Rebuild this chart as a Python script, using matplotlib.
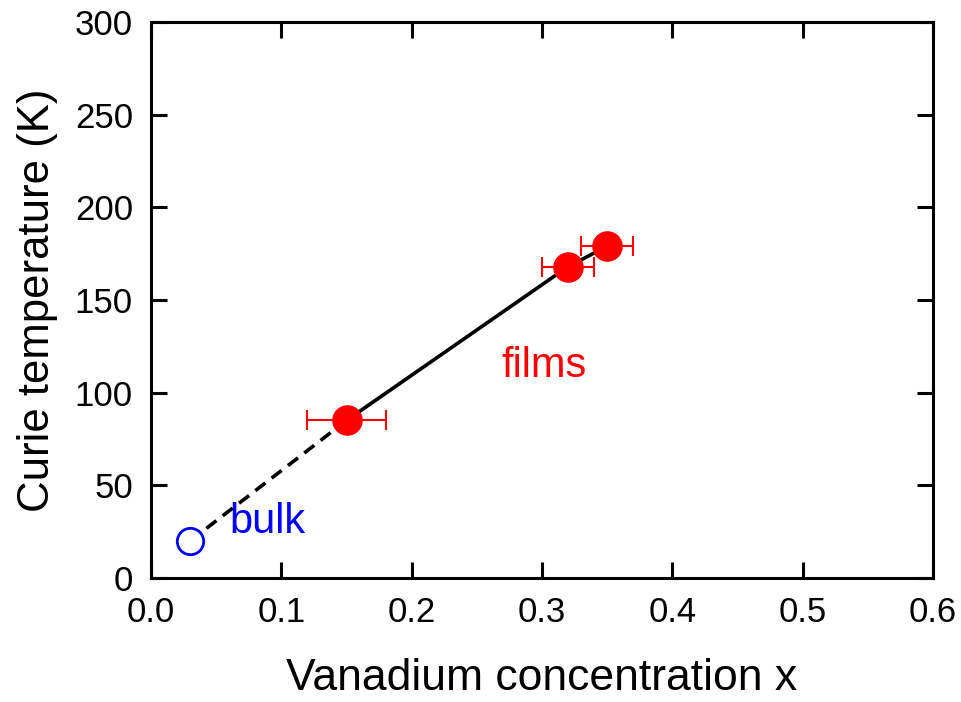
import matplotlib
matplotlib.use("Agg")
import matplotlib.pyplot as plt

plt.rcParams['font.family'] = ['Liberation Sans', 'DejaVu Sans']

# Curie temperature vs vanadium concentration
film_x = [0.15, 0.32, 0.35]
film_tc = [85, 168, 179]
film_xerr = [0.03, 0.02, 0.02]
bulk_x = [0.03]
bulk_tc = [20]

x_ticks = [0.0, 0.1, 0.2, 0.3, 0.4, 0.5, 0.6]
y_ticks = [0, 50, 100, 150, 200, 250, 300]

fig = plt.figure(figsize=(9.62, 7.02), dpi=100)
ax = fig.add_axes([151/962, (702-578)/702, (933-151)/962, (578-22)/702])

# trend line: dashed extrapolation to bulk, solid through the films
ax.plot([bulk_x[0], film_x[0]], [bulk_tc[0], film_tc[0]], color='black',
        lw=2.6, ls=(0, (3.5, 2.2)), zorder=1)
ax.plot(film_x, film_tc, color='black', lw=2.6, zorder=1)

ax.errorbar(film_x, film_tc, xerr=film_xerr, fmt='o', color='red',
            markersize=21, ecolor='red', elinewidth=1.5, capsize=7,
            capthick=1.5, zorder=3)
ax.plot(bulk_x, bulk_tc, 'o', markersize=19, markerfacecolor='white',
        markeredgecolor='blue', markeredgewidth=2, zorder=3)

ax.text(0.269, 108.5, 'films', color='red', fontsize=30, va='baseline')
ax.text(0.060, 24.3, 'bulk', color='blue', fontsize=30, va='baseline')

ax.set_xlim(0, 0.6)
ax.set_ylim(0, 300)
ax.set_xticks(x_ticks)
ax.set_yticks(y_ticks)
ax.set_xticklabels([f'{v:.1f}' for v in x_ticks])
ax.set_yticklabels([str(v) for v in y_ticks])
ax.tick_params(direction='in', length=11.5, width=2.2, top=True, right=True,
               labelsize=25)
ax.tick_params(axis='x', pad=13)
ax.tick_params(axis='y', pad=13)
for s in ax.spines.values():
    s.set_linewidth(2.2)

ax.set_xlabel('Vanadium concentration x', fontsize=32, labelpad=21)
ax.set_ylabel('Curie temperature (K)', fontsize=31.5, labelpad=12)

fig.savefig('out.png', dpi=100)
